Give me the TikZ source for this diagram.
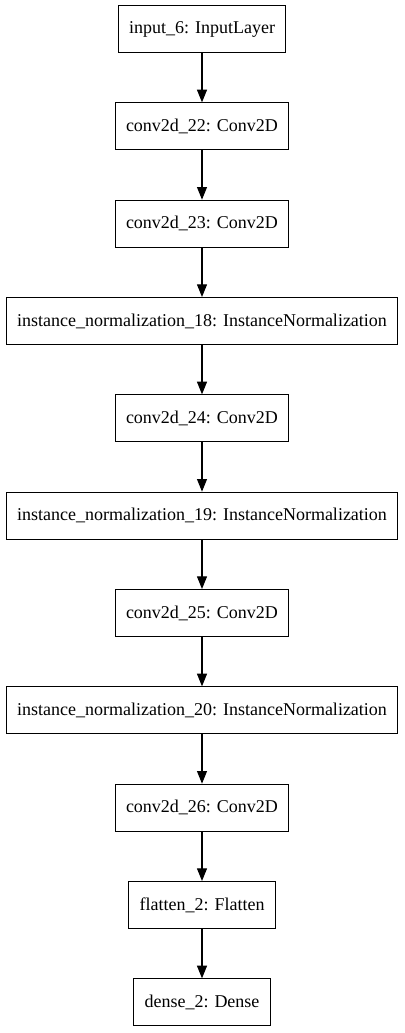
\documentclass[tikz,border=0pt]{standalone}
\usepackage{fontspec}
\setmainfont{Liberation Serif}
\newfontfamily\layerserif{Liberation Serif}
\usepackage{tikz}
\usetikzlibrary{positioning,arrows.meta}
\newcommand{\layerfont}{\layerserif\fontsize{13.5}{16}\selectfont}
\tikzset{
  layer/.style = {rectangle, draw=black, line width=0.8pt, minimum height=35.2pt,
                  inner xsep=8pt, inner ysep=0pt, font=\layerfont},
  link/.style  = {-{Triangle[length=9.5pt, width=7.5pt]}, line width=0.8pt, draw=black},
}

\begin{document}
\begin{tikzpicture}[node distance=37pt]
  \useasboundingbox (0,0) rectangle (303pt,-774.75pt);

  \node[layer] (inp) at (151.5pt,-21.75pt) {input\_6: InputLayer};
  \node[layer, below=of inp] (c22) {conv2d\_22: Conv2D};
  \node[layer, below=of c22] (c23) {conv2d\_23: Conv2D};
  \node[layer, below=of c23] (n18) {instance\_normalization\_18: InstanceNormalization};
  \node[layer, below=of n18] (c24) {conv2d\_24: Conv2D};
  \node[layer, below=of c24] (n19) {instance\_normalization\_19: InstanceNormalization};
  \node[layer, below=of n19] (c25) {conv2d\_25: Conv2D};
  \node[layer, below=of c25] (n20) {instance\_normalization\_20: InstanceNormalization};
  \node[layer, below=of n20] (c26) {conv2d\_26: Conv2D};
  \node[layer, below=of c26] (flt) {flatten\_2: Flatten};
  \node[layer, below=of flt] (dns) {dense\_2: Dense};

  \foreach \a/\b in {inp/c22, c22/c23, c23/n18, n18/c24, c24/n19, n19/c25,
                     c25/n20, n20/c26, c26/flt, flt/dns}
    \draw[link] (\a) -- (\b);
\end{tikzpicture}
\end{document}
